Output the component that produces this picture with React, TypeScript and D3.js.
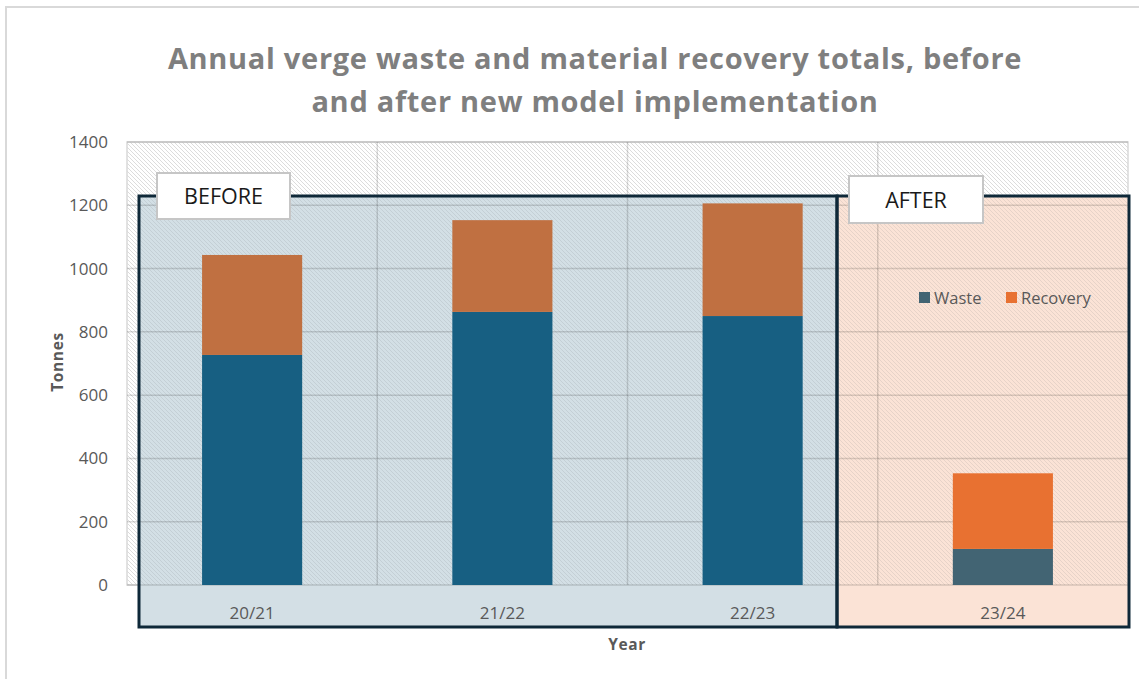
import { useEffect, useRef } from 'react';
import * as d3 from 'd3';

const years = ['20/21', '21/22', '22/23', '23/24'];
const waste = [727, 863, 850, 114];
const recovery = [316, 290, 356, 239];
const period = ['before', 'before', 'before', 'after'];
const yTicks = [0, 200, 400, 600, 800, 1000, 1200, 1400];
const seriesNames = ['Waste', 'Recovery'];

const colors: Record<string, { waste: string; recovery: string }> = {
  before: { waste: '#175F82', recovery: '#C07041' },
  after: { waste: '#426473', recovery: '#E87131' },
};

export default function App() {
  const ref = useRef<SVGSVGElement | null>(null);

  useEffect(() => {
    if (!ref.current) return;
    const svg = d3.select(ref.current);
    svg.selectAll('*').remove();

    const font = '"Open Sans", sans-serif';
    const left = 127;
    const right = 1128;
    const top = 142;
    const bottom = 585;

    const x = d3.scaleBand<string>().domain(years).range([left, right]).paddingInner(0.6).paddingOuter(0.3);
    const y = d3.scaleLinear().domain([0, 1400]).range([bottom, top]);
    const step = x.step();

    // hatch patterns
    const defs = svg.append('defs');
    const hatch = (id: string, color: string) => {
      const p = defs
        .append('pattern')
        .attr('id', id)
        .attr('patternUnits', 'userSpaceOnUse')
        .attr('width', 4)
        .attr('height', 4);
      p.append('path')
        .attr('d', 'M-1,-1 L5,5 M3,-1 L5,1 M-1,3 L1,5')
        .attr('stroke', color)
        .attr('stroke-width', 1);
    };
    hatch('hatchPlain', '#DCDCDC');
    hatch('hatchBox', 'rgba(90,100,110,0.13)');

    // chart frame
    svg.append('rect')
      .attr('x', 6).attr('y', 7).attr('width', 1200).attr('height', 700)
      .attr('fill', '#fff').attr('stroke', '#D9D9D9').attr('stroke-width', 2);

    // plot area
    svg.append('rect')
      .attr('x', left).attr('y', top).attr('width', right - left).attr('height', bottom - top)
      .attr('fill', 'url(#hatchPlain)').attr('stroke', '#D9D9D9').attr('stroke-width', 1.5);

    // before / after boxes
    const boxTop = 196;
    const boxBottom = 627;
    const boxLeft = 139;
    const boxMid = 837;
    const boxRight = 1129;
    const boxes = [
      { x0: boxLeft, x1: boxMid, fill: '#D3DFE5' },
      { x0: boxMid, x1: boxRight, fill: '#FBE3D6' },
    ];
    boxes.forEach((b) => {
      svg.append('rect')
        .attr('x', b.x0).attr('y', boxTop).attr('width', b.x1 - b.x0).attr('height', boxBottom - boxTop)
        .attr('fill', b.fill);
      svg.append('rect')
        .attr('x', b.x0).attr('y', boxTop).attr('width', b.x1 - b.x0).attr('height', bottom - boxTop)
        .attr('fill', 'url(#hatchBox)');
    });

    // gridlines
    const grid = svg.append('g').attr('stroke', 'rgba(0,0,0,0.14)').attr('stroke-width', 1.5);
    yTicks.forEach((t) => {
      grid.append('line').attr('x1', left).attr('x2', right).attr('y1', y(t)).attr('y2', y(t));
    });
    years.forEach((yr, i) => {
      const gx = left + step * (i + 1);
      if (i < years.length - 1) grid.append('line').attr('x1', gx).attr('x2', gx).attr('y1', top).attr('y2', bottom);
    });

    // stacked bars
    years.forEach((yr, i) => {
      const c = colors[period[i]];
      const bx = x(yr) as number;
      const w = x.bandwidth();
      svg.append('rect')
        .attr('x', bx).attr('y', y(waste[i])).attr('width', w).attr('height', y(0) - y(waste[i]))
        .attr('fill', c.waste);
      svg.append('rect')
        .attr('x', bx).attr('y', y(waste[i] + recovery[i])).attr('width', w)
        .attr('height', y(waste[i]) - y(waste[i] + recovery[i]))
        .attr('fill', c.recovery);
    });

    // box borders
    boxes.forEach((b) => {
      svg.append('rect')
        .attr('x', b.x0).attr('y', boxTop).attr('width', b.x1 - b.x0).attr('height', boxBottom - boxTop)
        .attr('fill', 'none').attr('stroke', '#0E2838').attr('stroke-width', 3);
    });

    // label boxes
    const tags = [
      { text: 'BEFORE', x0: 157, y0: 173, w: 133, h: 46 },
      { text: 'AFTER', x0: 849, y0: 176, w: 134, h: 47 },
    ];
    tags.forEach((t) => {
      svg.append('rect')
        .attr('x', t.x0).attr('y', t.y0).attr('width', t.w).attr('height', t.h)
        .attr('fill', '#fff').attr('stroke', '#C6C6C6').attr('stroke-width', 2);
      svg.append('text')
        .attr('x', t.x0 + t.w / 2).attr('y', t.y0 + t.h / 2 + 8)
        .attr('text-anchor', 'middle').attr('font-family', font).attr('font-size', 21.5)
        .attr('fill', '#1a1a1a').text(t.text);
    });

    // y tick labels
    yTicks.forEach((t) => {
      svg.append('text')
        .attr('x', 108).attr('y', y(t) + 6)
        .attr('text-anchor', 'end').attr('font-family', font).attr('font-size', 17)
        .attr('fill', '#595959').text(t);
    });

    // x labels
    years.forEach((yr) => {
      svg.append('text')
        .attr('x', (x(yr) as number) + x.bandwidth() / 2).attr('y', 619)
        .attr('text-anchor', 'middle').attr('font-family', font).attr('font-size', 17)
        .attr('fill', '#595959').text(yr);
    });

    // axis titles
    svg.append('text')
      .attr('transform', 'translate(63,362) rotate(-90)')
      .attr('text-anchor', 'middle').attr('font-family', font).attr('font-size', 15.5)
      .attr('letter-spacing', 0.6)
      .attr('font-weight', 700).attr('fill', '#595959').text('Tonnes');
    svg.append('text')
      .attr('x', 627).attr('y', 650)
      .attr('text-anchor', 'middle').attr('font-family', font).attr('font-size', 15.5)
      .attr('letter-spacing', 0.6)
      .attr('font-weight', 700).attr('fill', '#595959').text('Year');

    // legend
    const legendColors = [colors.after.waste, colors.after.recovery];
    const legendX = [919, 1006];
    seriesNames.forEach((name, i) => {
      svg.append('rect')
        .attr('x', legendX[i]).attr('y', 292).attr('width', 11).attr('height', 11)
        .attr('fill', legendColors[i]);
      svg.append('text')
        .attr('x', legendX[i] + 15).attr('y', 304)
        .attr('font-family', font).attr('font-size', 16.5)
        .attr('fill', '#595959').text(name);
    });

    // title
    const title = [
      'Annual verge waste and material recovery totals, before',
      'and after new model implementation',
    ];
    title.forEach((line, i) => {
      svg.append('text')
        .attr('x', 595).attr('y', 69 + i * 43)
        .attr('text-anchor', 'middle').attr('font-family', font).attr('font-size', 29)
        .attr('letter-spacing', 0.7)
        .attr('font-weight', 700).attr('fill', '#7F7F7F').text(line);
    });
  }, []);

  return (
    <svg
      ref={ref}
      width={1139}
      height={679}
      viewBox="0 0 1139 679"
      style={{ position: 'absolute', left: 0, top: 0, background: '#fff' }}
    />
  );
}
